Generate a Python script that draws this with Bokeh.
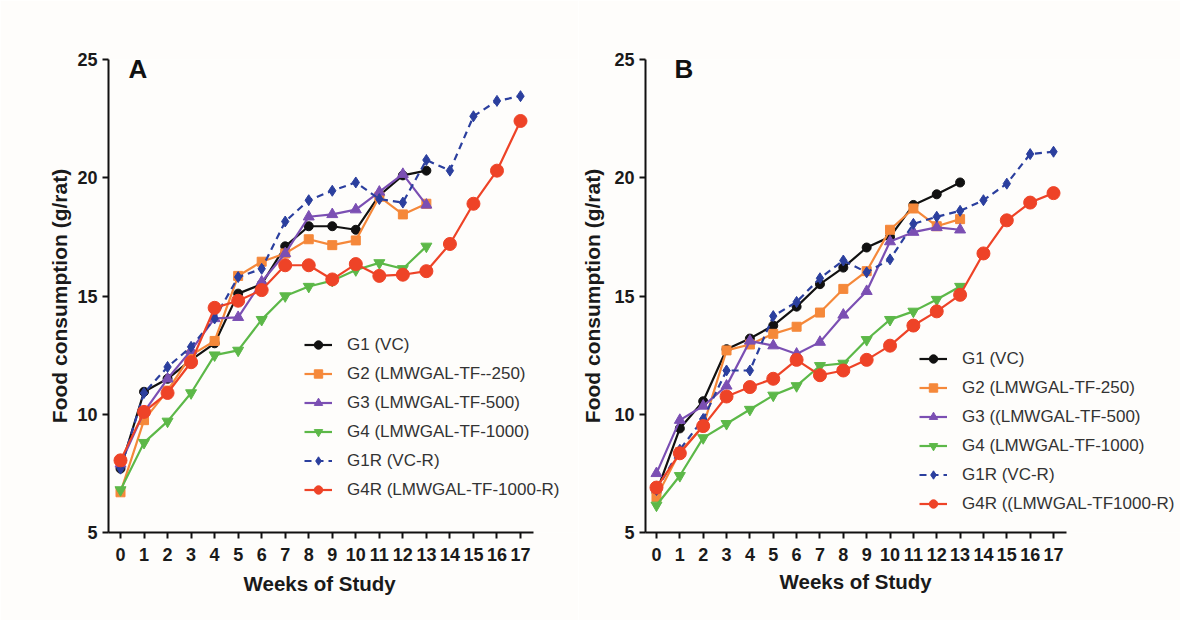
from bokeh.plotting import figure
from bokeh.layouts import row
from bokeh.models import Legend, LegendItem, FixedTicker, Label, Range1d, Title
from bokeh.embed import file_html
from bokeh.resources import INLINE

weeks13 = list(range(14))
weeks17 = list(range(18))
week_ticks = list(range(18))
y_ticks = [5, 10, 15, 20, 25]

# Panel A
A_G1 = [7.7, 10.95, 11.5, 12.3, 13.0, 15.1, 15.5, 17.1, 17.95, 17.95, 17.8, 19.25, 20.1, 20.3]
A_G2 = [6.7, 9.75, 11.0, 12.5, 13.1, 15.85, 16.45, 16.8, 17.4, 17.15, 17.35, 19.2, 18.45, 18.9]
A_G3 = [7.9, 10.1, 11.5, 12.7, 14.05, 14.1, 15.6, 16.8, 18.35, 18.45, 18.65, 19.4, 20.15, 18.85]
A_G4 = [6.8, 8.8, 9.7, 10.9, 12.5, 12.7, 14.0, 15.0, 15.4, 15.65, 16.1, 16.4, 16.15, 17.1]
A_G1R = [7.7, 10.9, 12.0, 12.85, 14.05, 15.8, 16.15, 18.15, 19.05, 19.45, 19.8, 19.1, 18.95, 20.75, 20.3, 22.6, 23.25, 23.45]
A_G4R = [8.05, 10.1, 10.9, 12.2, 14.5, 14.8, 15.25, 16.3, 16.3, 15.7, 16.35, 15.85, 15.9, 16.05, 17.2, 18.9, 20.3, 22.4]
A_labels = ["G1 (VC)", "G2 (LMWGAL-TF--250)", "G3 (LMWGAL-TF-500)", "G4 (LMWGAL-TF-1000)",
            "G1R (VC-R)", "G4R (LMWGAL-TF-1000-R)"]

# Panel B
B_G1 = [6.7, 9.4, 10.55, 12.75, 13.2, 13.75, 14.55, 15.5, 16.2, 17.05, 17.5, 18.85, 19.3, 19.8]
B_G2 = [6.5, 8.4, 9.5, 12.7, 12.95, 13.4, 13.7, 14.3, 15.3, 16.05, 17.8, 18.7, 17.95, 18.25]
B_G3 = [7.5, 9.75, 10.35, 11.2, 13.1, 12.9, 12.55, 13.05, 14.2, 15.2, 17.3, 17.7, 17.9, 17.8]
B_G4 = [6.15, 7.4, 9.0, 9.6, 10.2, 10.8, 11.2, 12.05, 12.15, 13.15, 14.0, 14.35, 14.85, 15.4]
B_G1R = [6.8, 8.5, 9.8, 11.85, 11.85, 14.15, 14.75, 15.75, 16.5, 16.0, 16.55, 18.05, 18.35, 18.6, 19.05, 19.75, 21.0, 21.1]
B_G4R = [6.9, 8.35, 9.5, 10.75, 11.15, 11.5, 12.3, 11.65, 11.85, 12.3, 12.9, 13.75, 14.35, 15.05, 16.8, 18.2, 18.95, 19.35]
B_labels = ["G1 (VC)", "G2 (LMWGAL-TF-250)", "G3 ((LMWGAL-TF-500)", "G4 (LMWGAL-TF-1000)",
            "G1R (VC-R)", "G4R ((LMWGAL-TF1000-R)"]

FONT = "Liberation Sans"
BG = "#fefdfb"
STYLES = [
    dict(color="#111111", marker="circle", size=9, dash="solid"),
    dict(color="#f5883a", marker="square", size=9, dash="solid"),
    dict(color="#7b4fb3", marker="triangle", size=11, dash="solid"),
    dict(color="#5cb848", marker="inverted_triangle", size=11, dash="solid"),
    dict(color="#2b3f9e", marker="diamond", size=11, dash="7 5"),
    dict(color="#ee4327", marker="circle", size=13, dash="solid"),
]

PX_PER_WEEK = 23.53


def build(letter, series, labels, x0, left, frame_w, ylab_standoff, xlab_offset, xlab_standoff,
          leg_xy, letter_x):
    x1 = x0 + frame_w / PX_PER_WEEK
    p = figure(width=left + frame_w, height=620, output_backend="svg",
               toolbar_location=None, min_border_left=left, min_border_right=0,
               min_border_top=59, min_border_bottom=88,
               x_range=Range1d(x0, x1), y_range=Range1d(5, 25))
    p.background_fill_color = BG
    p.border_fill_color = BG
    p.outline_line_color = None
    p.grid.visible = False

    for ax in (p.xaxis[0], p.yaxis[0]):
        ax.axis_line_width = 2
        ax.axis_line_color = "#111111"
        ax.major_tick_line_width = 2
        ax.major_tick_line_color = "#111111"
        ax.major_tick_out = 6
        ax.major_tick_in = 0
        ax.minor_tick_line_color = None
        ax.major_label_text_font = FONT
        ax.major_label_text_font_style = "bold"
        ax.major_label_text_font_size = "18px"
        ax.major_label_text_color = "#1a1a1a"
        ax.axis_label_text_font = FONT
        ax.axis_label_text_font_style = "bold"
        ax.axis_label_text_color = "#1a1a1a"
    p.xaxis[0].ticker = FixedTicker(ticks=week_ticks)
    p.xaxis[0].bounds = (x0, 17.55)
    p.yaxis[0].ticker = FixedTicker(ticks=y_ticks)
    p.xaxis[0].major_label_standoff = 9
    p.yaxis[0].major_label_standoff = 5
    p.yaxis[0].axis_label = "Food consumption (g/rat)"
    p.yaxis[0].axis_label_text_font_size = "21px"
    p.yaxis[0].axis_label_standoff = ylab_standoff

    # x-axis title, placed under the centre of the bounded axis line
    p.add_layout(Title(text="Weeks of Study", align="left", offset=xlab_offset,
                       standoff=xlab_standoff, text_font=FONT, text_font_style="bold",
                       text_font_size="20.5px", text_color="#1a1a1a"), "below")

    items = []
    for ys, lab, st in zip(series, labels, STYLES):
        xs = weeks17 if len(ys) == 18 else weeks13
        r1 = p.line(xs, ys, line_color=st["color"], line_width=2.2, line_dash=st["dash"])
        r2 = p.scatter(xs, ys, marker=st["marker"], size=st["size"],
                       fill_color=st["color"], line_color=st["color"])
        items.append(LegendItem(label=lab, renderers=[r1, r2]))

    leg = Legend(items=items, location=leg_xy, padding=0, margin=0, spacing=8,
                 glyph_width=28, glyph_height=21, label_height=21, label_standoff=15,
                 label_text_font=FONT, label_text_font_size="17px",
                 label_text_color="#333333", border_line_alpha=0,
                 background_fill_alpha=0)
    p.add_layout(leg, "center")

    p.add_layout(Label(x=letter_x, y=24.58, text=letter,
                       text_font=FONT, text_font_style="bold", text_font_size="26px",
                       text_color="#111111", text_baseline="alphabetic"))
    return p


pA = build("A", [A_G1, A_G2, A_G3, A_G4, A_G1R, A_G4R], A_labels,
           x0=-0.51, left=108, frame_w=470, ylab_standoff=3, xlab_offset=135, xlab_standoff=12,
           leg_xy=(196, 32), letter_x=0.34)
pB = build("B", [B_G1, B_G2, B_G3, B_G4, B_G1R, B_G4R], B_labels,
           x0=-0.47, left=63, frame_w=539, ylab_standoff=7, xlab_offset=134, xlab_standoff=8,
           leg_xy=(274, 18), letter_x=0.77)

layout = row(pA, pB, spacing=0)
open("out.html", "w").write(file_html(layout, INLINE))
